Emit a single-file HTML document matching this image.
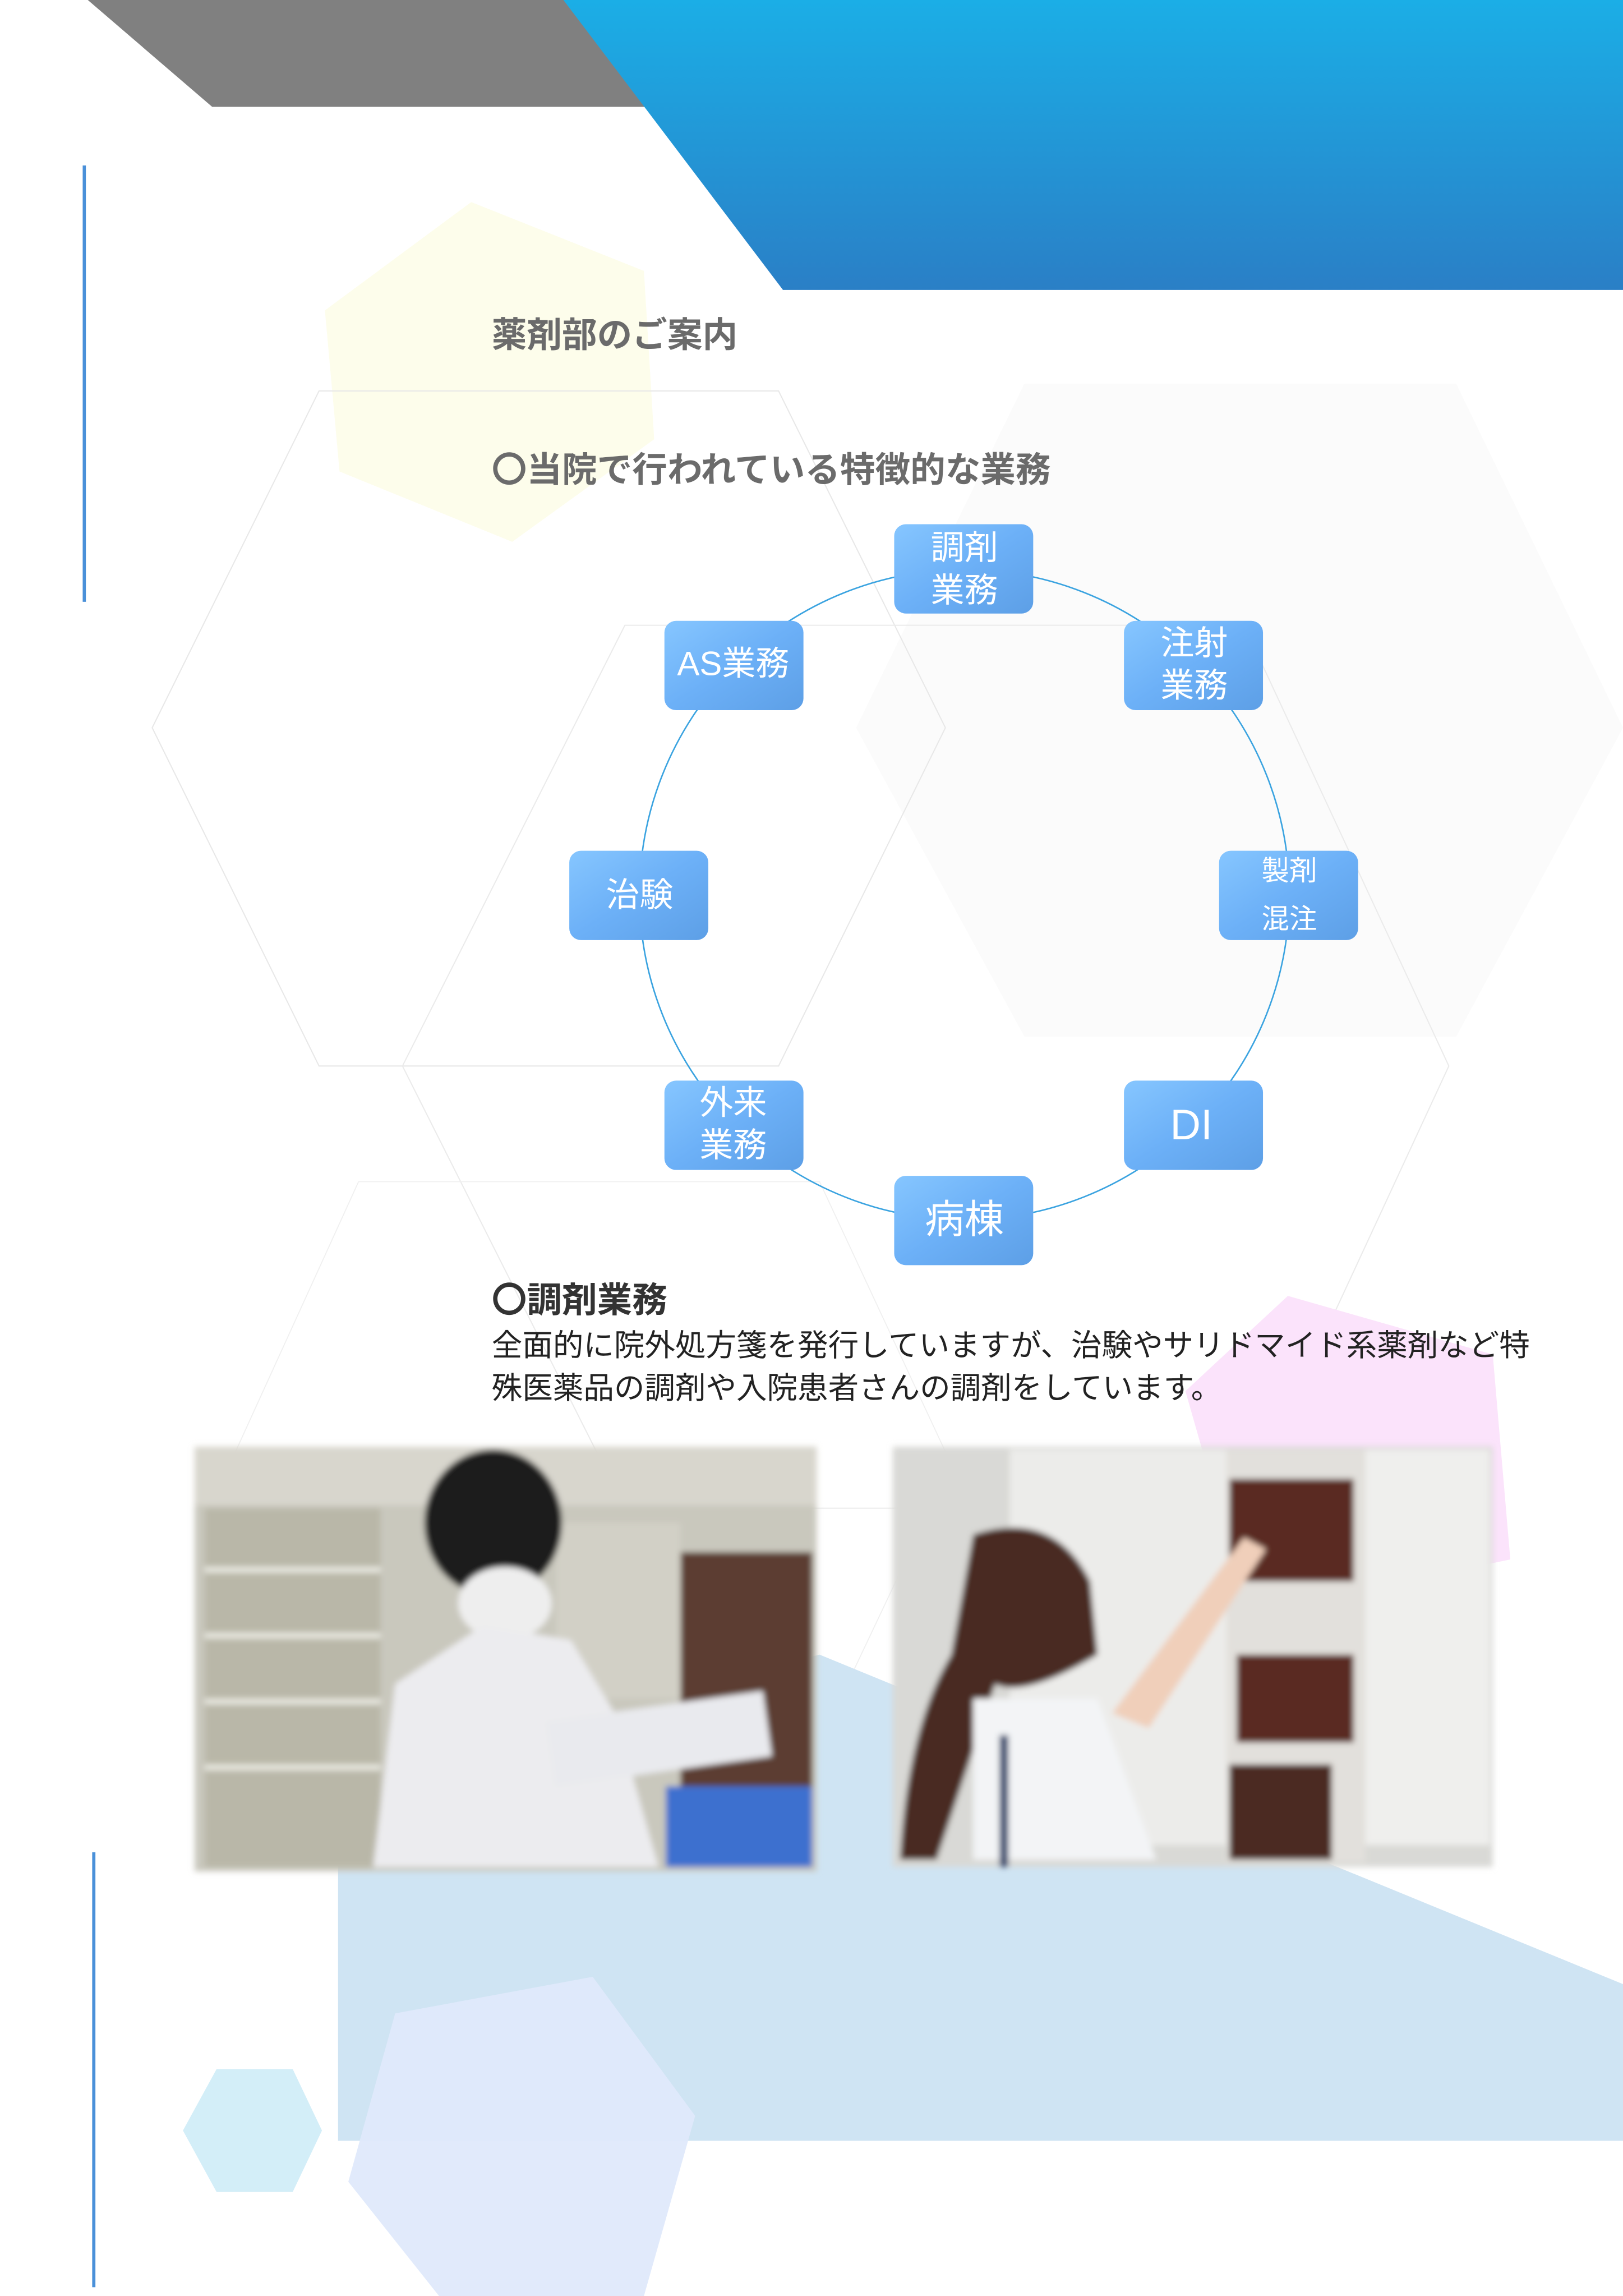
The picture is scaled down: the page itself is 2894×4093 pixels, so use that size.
<!DOCTYPE html>
<html><head><meta charset="utf-8"><style>
html,body{margin:0;padding:0;background:#fff;}
svg{display:block;}
text{font-family:"Liberation Sans","Noto Sans CJK JP",sans-serif;}
</style></head><body>
<svg width="2894" height="4093" viewBox="0 0 1109 1568" preserveAspectRatio="none" xmlns="http://www.w3.org/2000/svg">
<defs>
<linearGradient id="bl" x1="0" y1="0" x2="0" y2="1"><stop offset="0" stop-color="#1baee6"/><stop offset="1" stop-color="#2a7fc6"/></linearGradient>
<linearGradient id="nd" x1="0" y1="0" x2="1" y2="1"><stop offset="0" stop-color="#86c6ff"/><stop offset="0.5" stop-color="#6cb0f7"/><stop offset="1" stop-color="#5d9fe6"/></linearGradient>
<filter id="fe" x="-5%" y="-5%" width="110%" height="110%"><feGaussianBlur stdDeviation="2"/></filter>
</defs>
<polygon points="60,0 400,0 445,73 145,73" fill="#808080"/>
<polygon points="385,0 1109,0 1109,198 535,198" fill="url(#bl)"/>
<rect x="56.5" y="113" width="2.2" height="298" fill="#4a90d9"/>
<rect x="63" y="1265" width="2.2" height="297" fill="#4a90d9"/>
<polygon points="585,497 700,262 995,262 1109,497 995,708 700,708" fill="#fbfbfb"/>
<polygon points="322,138 440,185 447,300 350,370 232,322 222,212" fill="#fdfdeb"/>
<polygon points="104,497 218,267 532,267 646,497 532,728 218,728" fill="none" stroke="#e8e8e8" stroke-width="0.8"/>
<polygon points="275,728 427,427 850,427 990,728 850,1030 427,1030" fill="none" stroke="#ebebeb" stroke-width="0.8"/>
<polygon points="157,1000 245,807 560,807 650,1000 560,1190 245,1190" fill="none" stroke="#f0f0f0" stroke-width="0.7"/>
<polygon points="880,885 1020,925 1032,1065 960,1080 830,1020 810,950" fill="#fbe3fb"/>
<polygon points="231,1215 560,1130 1109,1355 1109,1462 231,1462" fill="#cfe4f3"/>
<polygon points="125,1455 148,1413 200,1413 220,1455 200,1497 148,1497" fill="#d3eef8"/>
<polygon points="270,1375 405,1350 475,1445 440,1568 300,1568 238,1490" fill="#dfe9fb" opacity="0.95"/>
<text x="336" y="237" font-size="24" font-weight="bold" fill="#6b6b6b">薬剤部のご案内</text>
<text x="336" y="329" font-size="24" font-weight="bold" fill="#6b6b6b">〇当院で行われている特徴的な業務</text>
<circle cx="659" cy="611" r="222" fill="none" stroke="#3aa3e0" stroke-width="1"/>
<g font-size="23" fill="#fff" text-anchor="middle">
<g><rect x="611" y="358" width="95" height="61" rx="8" fill="url(#nd)"/><text x="659" y="382">調剤</text><text x="659" y="411">業務</text></g>
<g><rect x="768" y="424" width="95" height="61" rx="8" fill="url(#nd)"/><text x="816" y="447">注射</text><text x="816" y="476">業務</text></g>
<g><rect x="833" y="581" width="95" height="61" rx="8" fill="url(#nd)"/><text x="881" y="601" font-size="19">製剤</text><text x="881" y="634" font-size="19">混注</text></g>
<g><rect x="768" y="738" width="95" height="61" rx="8" fill="url(#nd)"/><text x="814" y="778" font-size="29">DI</text></g>
<g><rect x="611" y="803" width="95" height="61" rx="8" fill="url(#nd)"/><text x="659" y="842" font-size="27">病棟</text></g>
<g><rect x="454" y="738" width="95" height="61" rx="8" fill="url(#nd)"/><text x="501" y="761">外来</text><text x="501" y="790">業務</text></g>
<g><rect x="389" y="581" width="95" height="61" rx="8" fill="url(#nd)"/><text x="437" y="619">治験</text></g>
<g><rect x="454" y="424" width="95" height="61" rx="8" fill="url(#nd)"/><text x="501" y="461">AS業務</text></g>
</g>
<text x="336" y="896" font-size="24" font-weight="bold" fill="#333">〇調剤業務</text>
<text x="336" y="926" font-size="20.9" fill="#222">全面的に院外処方箋を発行していますが、治験やサリドマイド系薬剤など特</text>
<text x="336" y="955" font-size="20.9" fill="#222">殊医薬品の調剤や入院患者さんの調剤をしています。</text>
<g filter="url(#fe)">
<rect x="133" y="988" width="425" height="290" fill="#c9c8bd"/>
<rect x="133" y="988" width="425" height="40" fill="#d8d6cd"/>
<rect x="140" y="1030" width="120" height="245" fill="#b9b7a8"/>
<rect x="140" y="1070" width="120" height="4" fill="#e8e8e0"/>
<rect x="140" y="1115" width="120" height="4" fill="#e8e8e0"/>
<rect x="140" y="1160" width="120" height="4" fill="#e8e8e0"/>
<rect x="140" y="1205" width="120" height="4" fill="#e8e8e0"/>
<rect x="465" y="1060" width="90" height="160" fill="#5b3e30"/>
<rect x="380" y="1040" width="85" height="120" fill="#d2d0c6"/>
<ellipse cx="337" cy="1040" rx="47" ry="50" fill="#1f1c1c"/>
<ellipse cx="345" cy="1095" rx="32" ry="25" fill="#eeeeee"/>
<polygon points="270,1150 330,1110 390,1120 420,1170 450,1275 255,1275" fill="#ececef"/>
<rect x="375" y="1165" width="150" height="45" fill="#e9eaee" transform="rotate(-8 450 1187)"/>
<rect x="455" y="1220" width="100" height="55" fill="#3e6fcf"/>
</g>
<g filter="url(#fe)">
<rect x="610" y="988" width="410" height="287" fill="#d9d9d6"/>
<rect x="690" y="990" width="150" height="270" fill="#ececea"/>
<rect x="838" y="990" width="95" height="282" fill="#e2e0dc"/>
<rect x="840" y="1010" width="85" height="70" fill="#5a2b22"/>
<rect x="845" y="1130" width="80" height="60" fill="#5a2b22"/>
<rect x="840" y="1205" width="70" height="65" fill="#4b2a20"/>
<rect x="933" y="990" width="85" height="270" fill="#efefed"/>
<path d="M665,1048 Q720,1030 745,1080 L750,1130 Q700,1160 680,1150 L640,1270 L615,1270 Q620,1180 650,1130 Z" fill="#4a2c22"/>
<polygon points="665,1160 750,1160 790,1270 665,1270" fill="#f3f4f6"/>
<rect x="683" y="1185" width="6" height="90" fill="#2a3f6a"/>
<polygon points="760,1170 850,1050 865,1058 785,1180" fill="#f0cfba"/>
</g>
</svg>
</body></html>
